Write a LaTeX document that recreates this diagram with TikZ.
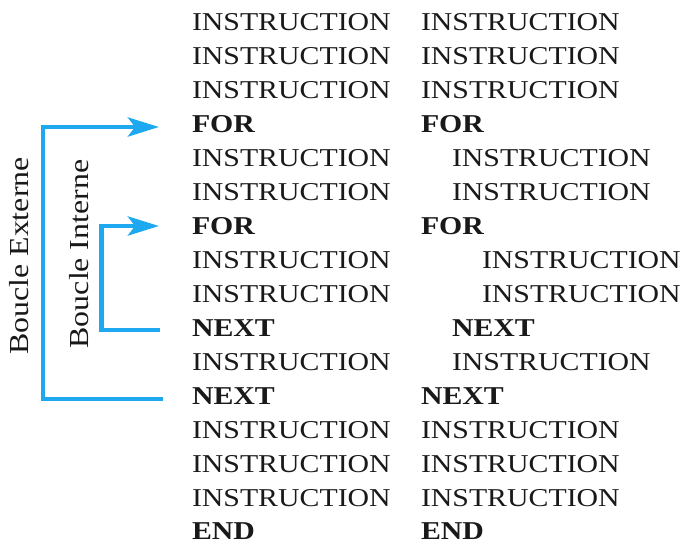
\documentclass[tikz,border=0pt]{standalone}
\usepackage{fontspec}
\setmainfont[FakeStretch=1.16]{Liberation Serif}
\usetikzlibrary{arrows.meta}
\definecolor{loopblue}{RGB}{30,168,240}
\tikzset{
  line/.style={inner sep=0pt, outer sep=0pt, anchor=base west, font=\fontsize{25.7pt}{30pt}\selectfont, text=black!90},
  kw/.style={line, font=\fontsize{25.7pt}{30pt}\selectfont\bfseries},
  looplabel/.style={inner sep=0pt, rotate=90, anchor=base, font=\fontsize{27.5pt}{30pt}\selectfont, text=black!90},
  bracket/.style={draw=loopblue, line width=4.8pt, line join=miter, -{Stealth[length=31pt, width=19pt, inset=7pt]}}
}
\begin{document}
\begin{tikzpicture}[x=1pt, y=-1pt]
\useasboundingbox (0,0) rectangle (683,544);
% left column
\node[line] (l0) at (192,30) {INSTRUCTION};
\node[line] (l1) at (192,64) {INSTRUCTION};
\node[line] (l2) at (192,98) {INSTRUCTION};
\node[kw]   (l3) at (192,132) {FOR};
\node[line] (l4) at (192,166) {INSTRUCTION};
\node[line] (l5) at (192,200) {INSTRUCTION};
\node[kw]   (l6) at (192,234) {FOR};
\node[line] (l7) at (192,268) {INSTRUCTION};
\node[line] (l8) at (192,302) {INSTRUCTION};
\node[kw]   (l9) at (192,336) {NEXT};
\node[line] (l10) at (192,370) {INSTRUCTION};
\node[kw]   (l11) at (192,404) {NEXT};
\node[line] (l12) at (192,438) {INSTRUCTION};
\node[line] (l13) at (192,472) {INSTRUCTION};
\node[line] (l14) at (192,506) {INSTRUCTION};
\node[kw]   (l15) at (192,539) {END};
% right column
\node[line] (r0) at (421,30) {INSTRUCTION};
\node[line] (r1) at (421,64) {INSTRUCTION};
\node[line] (r2) at (421,98) {INSTRUCTION};
\node[kw]   (r3) at (421,132) {FOR};
\node[line] (r4) at (452,166) {INSTRUCTION};
\node[line] (r5) at (452,200) {INSTRUCTION};
\node[kw]   (r6) at (421,234) {FOR};
\node[line] (r7) at (482,268) {INSTRUCTION};
\node[line] (r8) at (482,302) {INSTRUCTION};
\node[kw]   (r9) at (452,336) {NEXT};
\node[line] (r10) at (452,370) {INSTRUCTION};
\node[kw]   (r11) at (421,404) {NEXT};
\node[line] (r12) at (421,438) {INSTRUCTION};
\node[line] (r13) at (421,472) {INSTRUCTION};
\node[line] (r14) at (421,506) {INSTRUCTION};
\node[kw]   (r15) at (421,539) {END};
% loop labels
\node[looplabel] (ext) at (28,256) {Boucle Externe};
\node[looplabel] (int) at (88,254) {Boucle Interne};
% bracket coordinates
\coordinate (outerEnd) at (163,399);
\coordinate (outerCorner) at (43,127);
\coordinate (outerTip) at (159,127);
\coordinate (innerEnd) at (160,330);
\coordinate (innerCorner) at (101.5,226);
\coordinate (innerTip) at (159,226);
% brackets
\draw[bracket] (outerEnd) -| (outerCorner) -- (outerTip);
\draw[bracket] (innerEnd) -| (innerCorner) -- (innerTip);
\end{tikzpicture}
\end{document}
